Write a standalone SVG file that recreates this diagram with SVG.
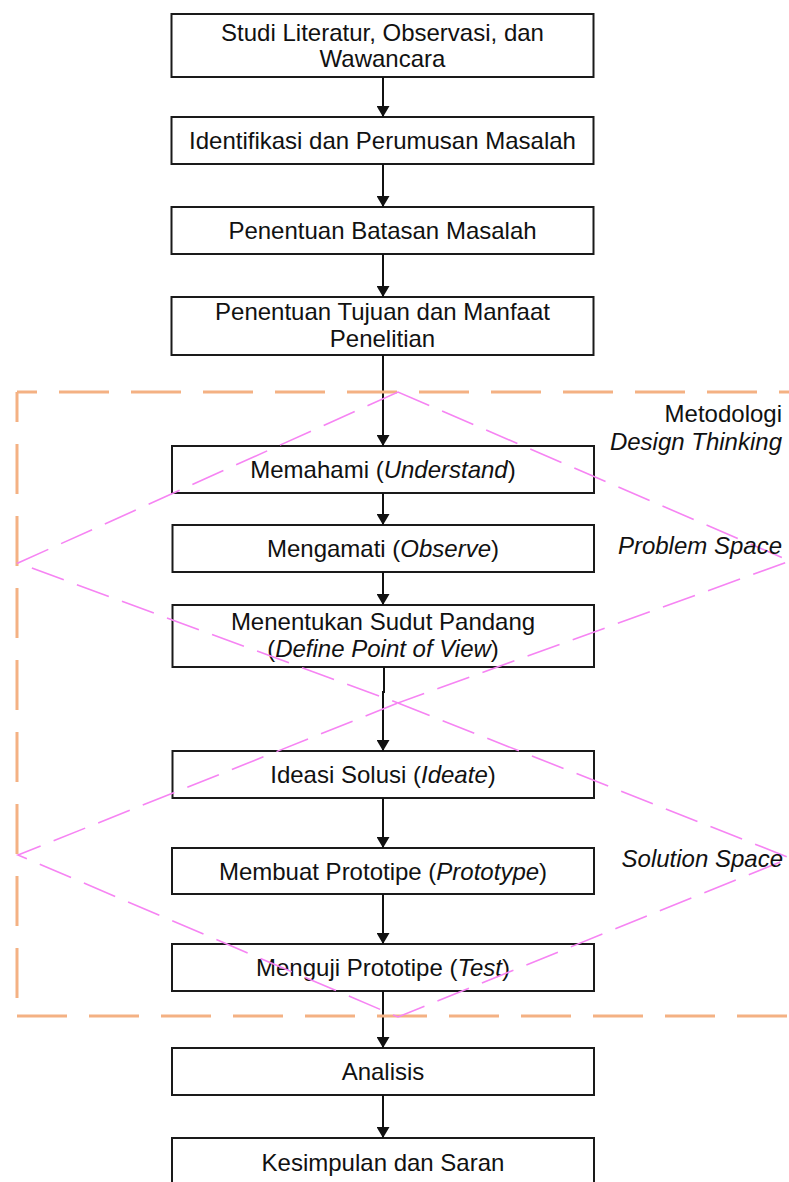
<svg xmlns="http://www.w3.org/2000/svg" width="789" height="1182" viewBox="0 0 789 1182">
<style>
.box{fill:#ffffff;stroke:#1a1a1a;stroke-width:2}
.t{font-family:"Liberation Sans",Arial,sans-serif;font-size:24px;fill:#111;text-anchor:middle}
.lbl{font-family:"Liberation Sans",Arial,sans-serif;font-size:24px;fill:#111;text-anchor:end}
.it{font-style:italic}
.con{stroke:#111;stroke-width:2;fill:none;marker-end:url(#arr)}
.pink{fill:none;stroke:#F684F3;stroke-width:1.6;stroke-dasharray:34 14}
.orange{fill:none;stroke:#F4B183;stroke-width:3;stroke-dasharray:50 22}
</style>
<defs>
<marker id="arr" markerUnits="userSpaceOnUse" markerWidth="11" markerHeight="13" refX="11" refY="6.5" orient="auto">
<path d="M0,0 L11,6.5 L0,13 z" fill="#111"/>
</marker>
</defs>
<g id="nodes">
<g id="n1"><rect class="box" x="171.5" y="14" width="422" height="63"/><text class="t" x="382.5" y="41">Studi Literatur, Observasi, dan</text><text class="t" x="382.5" y="67">Wawancara</text></g>
<g id="n2"><rect class="box" x="171.5" y="117" width="422" height="47"/><text class="t" x="382.5" y="149">Identifikasi dan Perumusan Masalah</text></g>
<g id="n3"><rect class="box" x="171.5" y="207" width="422" height="47"/><text class="t" x="382.5" y="239">Penentuan Batasan Masalah</text></g>
<g id="n4"><rect class="box" x="171.5" y="297" width="422" height="58"/><text class="t" x="382.5" y="320">Penentuan Tujuan dan Manfaat</text><text class="t" x="382.5" y="347">Penelitian</text></g>
<g id="n5"><rect class="box" x="172" y="446" width="422" height="47"/><text class="t" x="383" y="478">Memahami (<tspan class="it">Understand</tspan>)</text></g>
<g id="n6"><rect class="box" x="172.5" y="525" width="421.5" height="47"/><text class="t" x="383" y="557">Mengamati (<tspan class="it">Observe</tspan>)</text></g>
<g id="n7"><rect class="box" x="172.5" y="605" width="421.5" height="62"/><text class="t" x="383" y="630">Menentukan Sudut Pandang</text><text class="t" x="383" y="657">(<tspan class="it">Define Point of View</tspan>)</text></g>
<g id="n8"><rect class="box" x="172.5" y="751" width="421.5" height="47"/><text class="t" x="383" y="783">Ideasi Solusi (<tspan class="it">Ideate</tspan>)</text></g>
<g id="n9"><rect class="box" x="172" y="848" width="422" height="46"/><text class="t" x="383" y="879.5">Membuat Prototipe (<tspan class="it">Prototype</tspan>)</text></g>
<g id="n10"><rect class="box" x="172" y="944" width="422" height="47"/><text class="t" x="383" y="976">Menguji Prototipe (<tspan class="it">Test</tspan>)</text></g>
<g id="n11"><rect class="box" x="172" y="1048" width="422" height="47"/><text class="t" x="383" y="1080">Analisis</text></g>
<g id="n12"><rect class="box" x="172" y="1138" width="422" height="50"/><text class="t" x="383" y="1171">Kesimpulan dan Saran</text></g>
</g>
<g id="connectors">
<line class="con" x1="383" y1="77" x2="383" y2="117"/>
<line class="con" x1="383" y1="164" x2="383" y2="207"/>
<line class="con" x1="383" y1="254" x2="383" y2="297"/>
<line class="con" x1="383" y1="355" x2="383" y2="446"/>
<line class="con" x1="383" y1="493" x2="383" y2="525"/>
<line class="con" x1="383" y1="572" x2="383" y2="605"/>
<polyline class="con" points="384,667 384,692 383,692 383,751"/>
<line class="con" x1="383" y1="798" x2="383" y2="848"/>
<line class="con" x1="383" y1="894" x2="383" y2="944"/>
<line class="con" x1="383" y1="991" x2="383" y2="1048"/>
<line class="con" x1="383" y1="1095" x2="383" y2="1138"/>
</g>
<g id="frame">
<polyline class="orange" points="17,392 800,392" stroke-dashoffset="30"/>
<polyline class="orange" points="17,392 17,1016" stroke-dashoffset="20"/>
<polyline class="orange" points="17,1016 800,1016"/>
<polygon class="pink" points="398,392 790,561 398,703 18,563"/>
<polygon class="pink" points="398,703 790,858 398,1017 18,855"/>
</g>
<g id="labels">
<text class="lbl" x="782" y="422">Metodologi</text>
<text class="lbl it" x="782" y="450">Design Thinking</text>
<text class="lbl it" x="782" y="554">Problem Space</text>
<text class="lbl it" x="783" y="867">Solution Space</text>
</g>
</svg>
